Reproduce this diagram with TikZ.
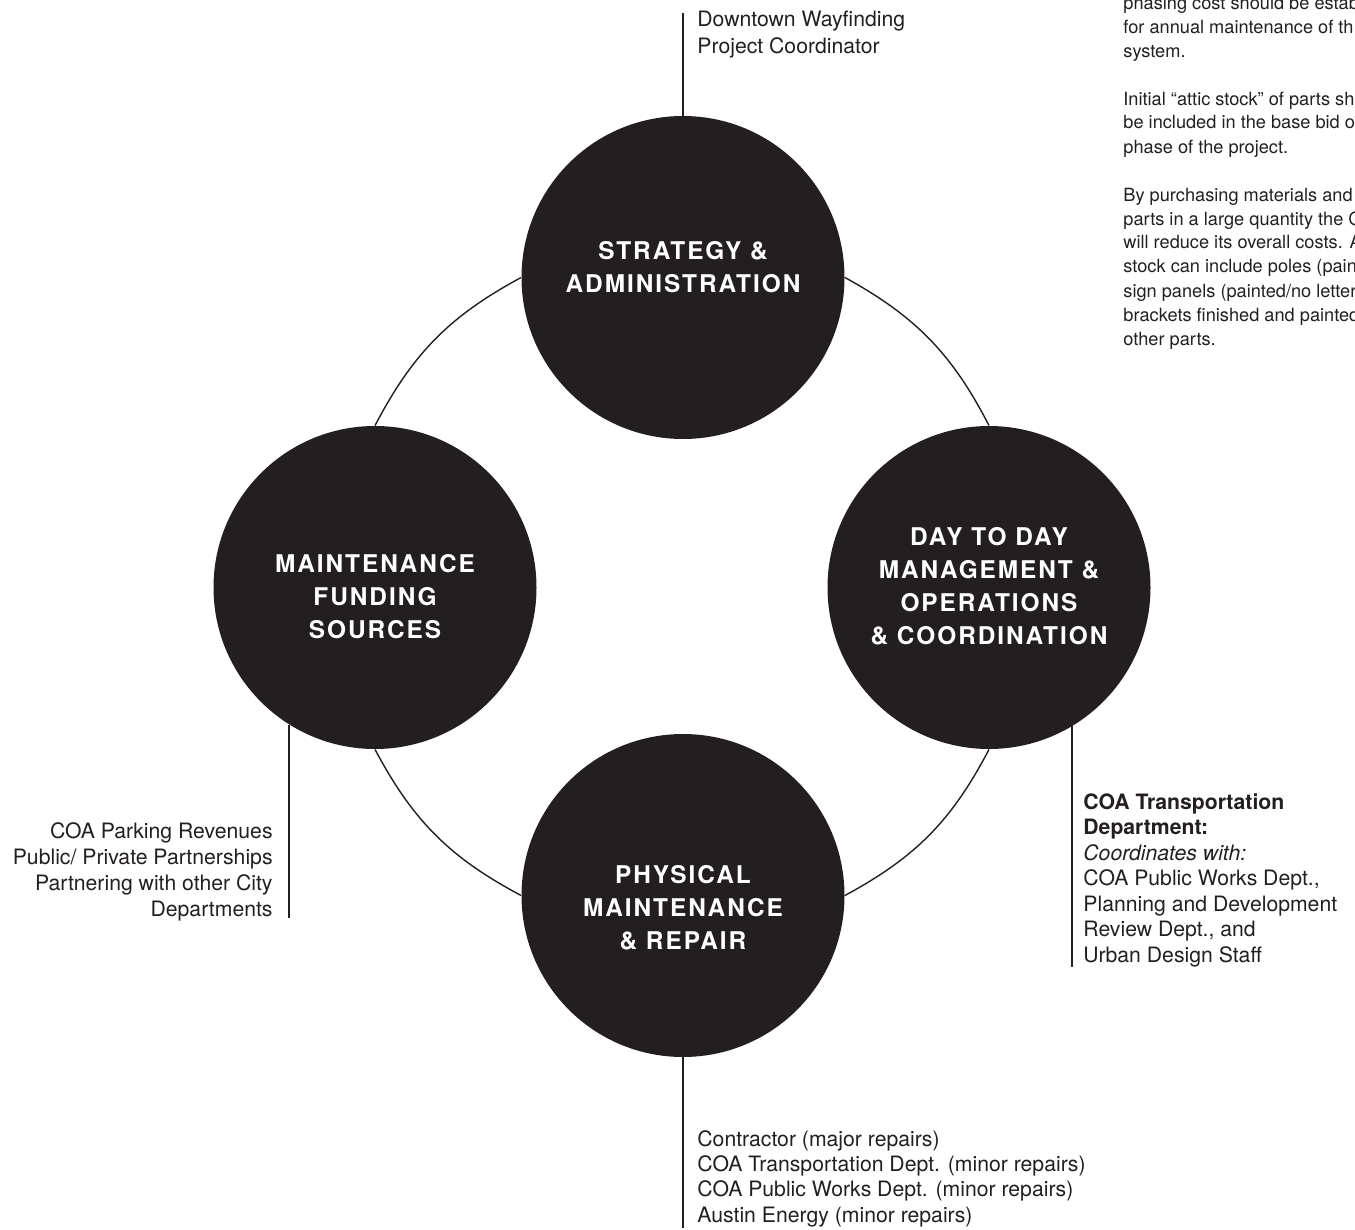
\documentclass[tikz,border=0pt]{standalone}
\usepackage{fontspec}
\setmainfont{TeX Gyre Heros}
\newfontfamily\titlefont{TeX Gyre Heros}[LetterSpace=8]
\usetikzlibrary{positioning}
\definecolor{ink}{HTML}{231F20}
\tikzset{
        % Phase circles
        node_phase/.style={circle, fill=ink, minimum size=161.5pt, inner sep=0pt},
        % Titles inside the circles
        node_title/.style={align=center, text=white, inner sep=0pt, font=\titlefont\bfseries\fontsize{12.2}{16.5}\selectfont},
        % Side notes
        node_note/.style={inner sep=0pt, text=ink, font=\fontsize{10.6}{12.75}\selectfont},
        % Thin ring between the circles
        edge_ring/.style={draw=ink, line width=0.7pt},
        % Leader lines to the notes
        edge_leader/.style={draw=ink, line width=1.1pt}
}
\begin{document}
\begin{tikzpicture}[x=0.5pt, y=-0.5pt]
    \useasboundingbox (0,0) rectangle (1355,1230);
    \coordinate (hub) at (683,587.5);

    % circles
    \node[node_phase] (strategy) at ([yshift=155pt]hub) {};
    \node[node_phase] (funding) at ([xshift=-154pt]hub) {};
    \node[node_phase] (operations) at ([xshift=153pt]hub) {};
    \node[node_phase] (repair) at ([yshift=-154pt]hub) {};

    % ring
    \draw[edge_ring] (funding.north) to[bend left=17] (strategy.west);
    \draw[edge_ring] (strategy.east) to[bend left=17] (operations.north);
    \draw[edge_ring] (operations.south) to[bend left=17] (repair.east);
    \draw[edge_ring] (repair.west) to[bend left=17] (funding.south);

    % titles
    \node[node_title] (strategy_title) at ([yshift=5pt]strategy.center) {STRATEGY \&\\ADMINISTRATION};
    \node[node_title] (funding_title) at ([yshift=-4.5pt]funding.center) {MAINTENANCE\\FUNDING\\SOURCES};
    \node[node_title] (operations_title) at ([yshift=0.75pt]operations.center) {DAY TO DAY\\MANAGEMENT \&\\OPERATIONS\\\& COORDINATION};
    \node[node_title] (repair_title) at ([yshift=-6pt]repair.center) {PHYSICAL\\MAINTENANCE\\\& REPAIR};

    % leaders
    \coordinate (strategy_end) at (684,13);
    \coordinate (funding_end) at (290,918);
    \coordinate (operations_end) at (1072.5,967);
    \coordinate (repair_end) at (684,1228);
    \draw[edge_leader] (strategy.north) -- (strategy.north |- strategy_end);
    \draw[edge_leader] (funding.238.6) -- (funding.238.6 |- funding_end);
    \draw[edge_leader] (operations.301.1) -- (operations.301.1 |- operations_end);
    \draw[edge_leader] (repair.south) -- (repair.south |- repair_end);

    % notes (base = last line)
    \node[node_note, anchor=base west, align=left, font=\fontsize{10.6}{13.5}\selectfont] (strategy_note) at (697,54)
        {Downtown Wayfinding\\Project Coordinator};
    \node[node_note, anchor=base east, align=right, font=\fontsize{10.6}{13}\selectfont] (funding_note) at (273,916)
        {COA Parking Revenues\\Public/ Private Partnerships\\Partnering with other City\\Departments};
    \node[node_note, anchor=base west, align=left] (operations_note) at (1083,962)
        {{\bfseries COA Transportation}\\{\bfseries Department:}\\{\itshape Coordinates with:}\\COA Public Works Dept.,\\Planning and Development\\Review Dept., and\\Urban Design Staff};
    \node[node_note, anchor=base west, align=left, font=\fontsize{10.6}{12.65}\selectfont] (repair_note) at (697,1222)
        {Contractor (major repairs)\\COA Transportation Dept. (minor repairs)\\COA Public Works Dept. (minor repairs)\\Austin Energy (minor repairs)};
    \node[node_note, anchor=base west, align=left, font=\fontsize{9.1}{12}\selectfont] (stock_note) at (1123,345)
        {phasing cost should be estab\\for annual maintenance of th\\system.\\[12pt]
         Initial “attic stock” of parts sh\\be included in the base bid o\\phase of the project.\\[12pt]
         By purchasing materials and\\parts in a large quantity the C\\will reduce its overall costs. A\\stock can include poles (pain\\sign panels (painted/no letter\\brackets finished and painted\\other parts.};
\end{tikzpicture}
\end{document}
